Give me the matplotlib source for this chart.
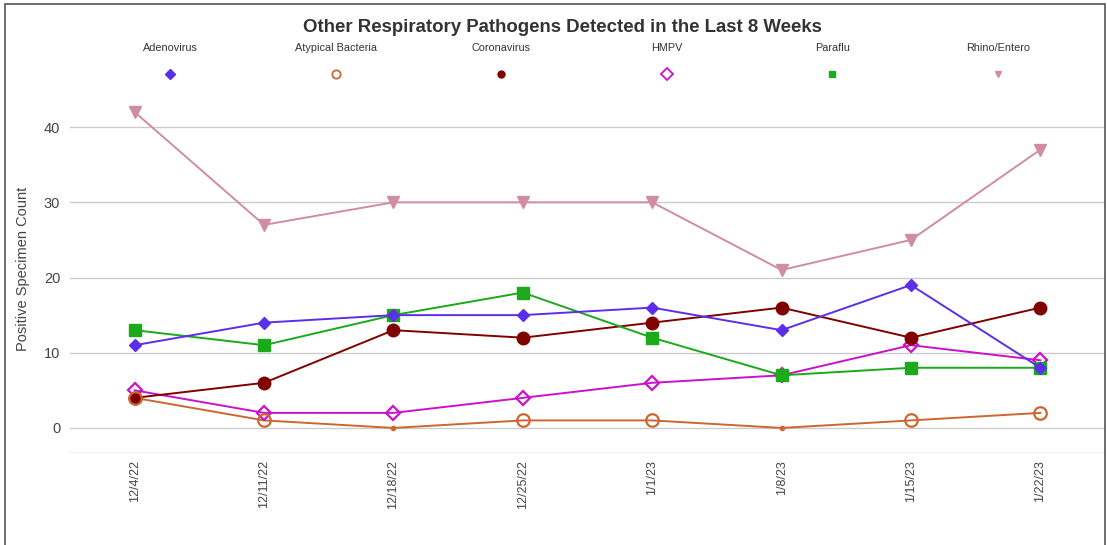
import matplotlib.pyplot as plt
from matplotlib.lines import Line2D
from matplotlib.patches import Rectangle
import numpy as np

plt.rcParams['font.family'] = ['Liberation Sans', 'DejaVu Sans']

dates = ['12/4/22', '12/11/22', '12/18/22', '12/25/22', '1/1/23', '1/8/23', '1/15/23', '1/22/23']
adenovirus = [11, 14, 15, 15, 16, 13, 19, 8]
atypical = [4, 1, 0, 1, 1, 0, 1, 2]
coronavirus = [4, 6, 13, 12, 14, 16, 12, 16]
hmpv = [5, 2, 2, 4, 6, 7, 11, 9]
paraflu = [13, 11, 15, 18, 12, 7, 8, 8]
rhino = [42, 27, 30, 30, 30, 21, 25, 37]

names = ['Adenovirus', 'Atypical Bacteria', 'Coronavirus', 'HMPV', 'Paraflu', 'Rhino/Entero']
series = [adenovirus, atypical, coronavirus, hmpv, paraflu, rhino]
colors = ['#5b2ee8', '#cc6633', '#800000', '#cc11cc', '#1aaa1a', '#d08ca2']
styles = [
    dict(marker='D', ms=6.5, mfc='#5b2ee8', mec='#5b2ee8'),
    dict(marker='o', ms=9, mfc='none', mec='#cc6633', mew=1.6),
    dict(marker='o', ms=9, mfc='#800000', mec='#800000'),
    dict(marker='D', ms=7.5, mfc='none', mec='#cc11cc', mew=1.6),
    dict(marker='s', ms=8, mfc='#1aaa1a', mec='#1aaa1a'),
    dict(marker='v', ms=9, mfc='#d08ca2', mec='#d08ca2'),
]
leg_ms = [5, 6, 5, 6, 5, 5]

W, H = 1107, 545
fig = plt.figure(figsize=(W / 100, H / 100), dpi=100)
ax = fig.add_axes([70 / W, 1 - 452 / H, 1035 / W, (452 - 85) / H])

x = np.arange(len(dates))
order = [5, 1, 3, 2, 4, 0]
for i in order:
    vals = np.array(series[i])
    st = dict(styles[i])
    if i == 1:
        # zero counts are drawn as a small dot only
        ax.plot(x, vals, color=colors[i], lw=1.4, zorder=3)
        nz = vals > 0
        ax.plot(x[nz], vals[nz], ls='none', zorder=4, **st)
        ax.plot(x[~nz], vals[~nz], ls='none', marker='o', ms=3, color=colors[i], zorder=4)
    else:
        ax.plot(x, vals, color=colors[i], lw=1.4, zorder=3, **st)

ax.set_xlim(-0.5, len(dates) - 0.5)
ax.set_ylim(-3.2, 45.6)
ax.set_yticks([0, 10, 20, 30, 40])
ax.set_xticks(x)
ax.set_xticklabels(dates, rotation=90)
ax.tick_params(axis='both', length=0, labelcolor='#444444')
ax.tick_params(axis='y', pad=7, labelsize=10.5)
ax.tick_params(axis='x', pad=6, labelsize=9)
ax.grid(axis='y', color='#cccccc', lw=1)
ax.set_axisbelow(True)
for s in ['top', 'right', 'left']:
    ax.spines[s].set_visible(False)
ax.spines['bottom'].set_color('#eeeeee')
ax.set_ylabel('Positive Specimen Count', fontsize=10.5, color='#444444', labelpad=10)

fig.text(562 / W, 1 - 28 / H, 'Other Respiratory Pathogens Detected in the Last 8 Weeks',
         ha='center', va='center', fontsize=13.4, fontweight='bold', color='#333333')

for k, name in enumerate(names):
    cx = (170 + k * 165.6) / W
    fig.text(cx, 1 - 48 / H, name, ha='center', va='center', fontsize=7.8, color='#333333')
    st = dict(styles[k])
    st['ms'] = leg_ms[k]
    if 'mew' in st:
        st['mew'] = 1.3
    fig.add_artist(Line2D([cx], [1 - 74 / H], ls='none', transform=fig.transFigure, **st))

fig.add_artist(Rectangle((5 / W, -0.1), 1100 / W, 1.1 - 4 / H, transform=fig.transFigure,
                         fill=False, edgecolor='#555555', lw=1.2))

fig.savefig('out.png', dpi=100)
